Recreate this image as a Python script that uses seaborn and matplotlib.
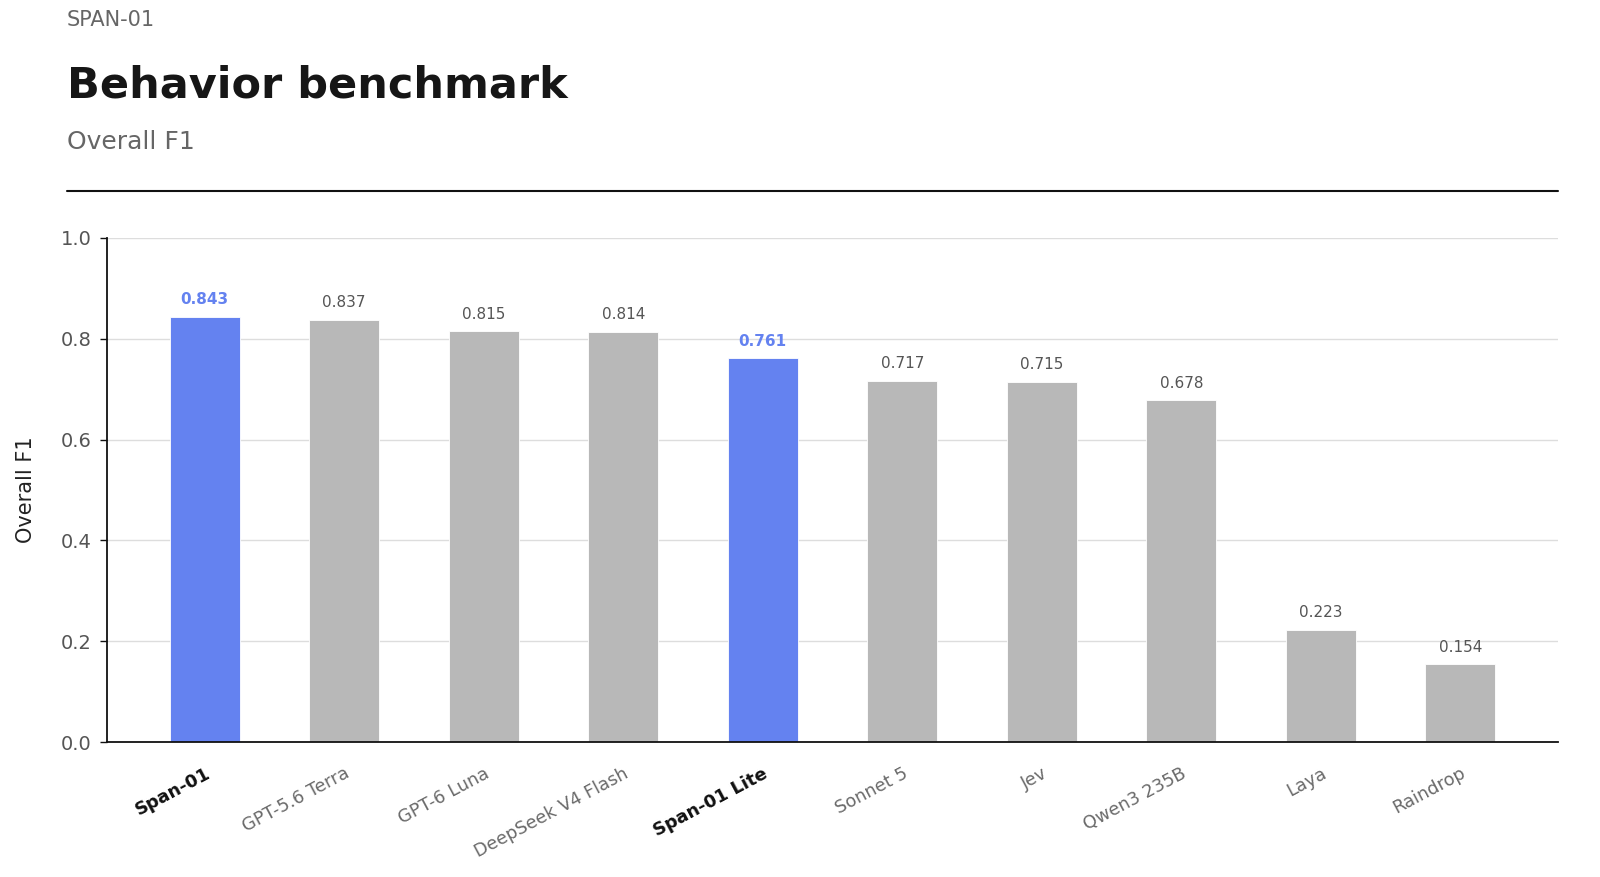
import seaborn as sns
import matplotlib.pyplot as plt
import pandas as pd

models = ["Span-01", "GPT-5.6 Terra", "GPT-6 Luna", "DeepSeek V4 Flash", "Span-01 Lite",
          "Sonnet 5", "Jev", "Qwen3 235B", "Laya", "Raindrop"]
scores = [0.843, 0.837, 0.815, 0.814, 0.761, 0.717, 0.715, 0.678, 0.223, 0.154]
ours = ["Span-01", "Span-01 Lite"]

BLUE = "#6482F0"
GRAY = "#B8B8B8"

df = pd.DataFrame({"Model": models, "F1": scores})
df["Ours"] = df["Model"].isin(ours)

sns.set_theme(style="white")
plt.rcParams["font.family"] = ["DejaVu Sans"]

fig = plt.figure(figsize=(16, 8.77), dpi=100)
ax = fig.add_axes([107 / 1600, 1 - 742 / 877, (1558 - 107) / 1600, (742 - 238) / 877])

palette = [BLUE if o else GRAY for o in df["Ours"]]
sns.barplot(data=df, x="Model", y="F1", hue="Model", palette=palette, legend=False,
            saturation=1, width=0.5, edgecolor="white", linewidth=0.6, ax=ax, zorder=2)

ax.set_ylim(0, 1.0)
ax.set_xlim(-0.7, len(models) - 0.3)
ax.set_yticks([0.0, 0.2, 0.4, 0.6, 0.8, 1.0])
ax.set_yticklabels([f"{v:.1f}" for v in ax.get_yticks()])
ax.yaxis.grid(True, color="#DDDDDD", linewidth=1, zorder=0)
ax.set_axisbelow(True)
for s in ["top", "right"]:
    ax.spines[s].set_visible(False)
for s in ["left", "bottom"]:
    ax.spines[s].set_color("#111111")
    ax.spines[s].set_linewidth(1.3)

ax.tick_params(axis="y", left=True, length=5, width=1, color="#111111",
               labelsize=14, labelcolor="#555555", pad=6)
ax.tick_params(axis="x", bottom=False, pad=10)
ax.set_xlabel("")
ax.set_ylabel("Overall F1", fontsize=15, color="#222222", labelpad=18)

ax.set_xticks(range(len(models)))
ax.set_xticklabels(models, rotation=28, ha="right", rotation_mode="anchor")
for lbl in ax.get_xticklabels():
    lbl.set_fontsize(12.75)
    if lbl.get_text() in ours:
        lbl.set_fontweight("bold")
        lbl.set_color("#111111")
    else:
        lbl.set_color("#6A6A6A")

for i, (v, o) in enumerate(zip(df["F1"], df["Ours"])):
    ax.annotate(f"{v:.3f}", (i, v), xytext=(0, 7), textcoords="offset points",
                ha="center", va="bottom", fontsize=11,
                color=BLUE if o else "#555555",
                fontweight="bold" if o else "normal")

fig.text(67 / 1600, 1 - 20 / 877, "SPAN-01", fontsize=15, color="#666666", va="center", ha="left")
fig.text(67 / 1600, 1 - 85 / 877, "Behavior benchmark", fontsize=31, fontweight="bold",
         color="#161616", va="center", ha="left")
fig.text(67 / 1600, 1 - 142 / 877, "Overall F1", fontsize=18, color="#666666", va="center", ha="left")
fig.add_artist(plt.Line2D([67 / 1600, 1558 / 1600], [1 - 191 / 877, 1 - 191 / 877],
                          color="#111111", linewidth=1.5, transform=fig.transFigure))

fig.savefig("out.png", dpi=100, facecolor="white")
